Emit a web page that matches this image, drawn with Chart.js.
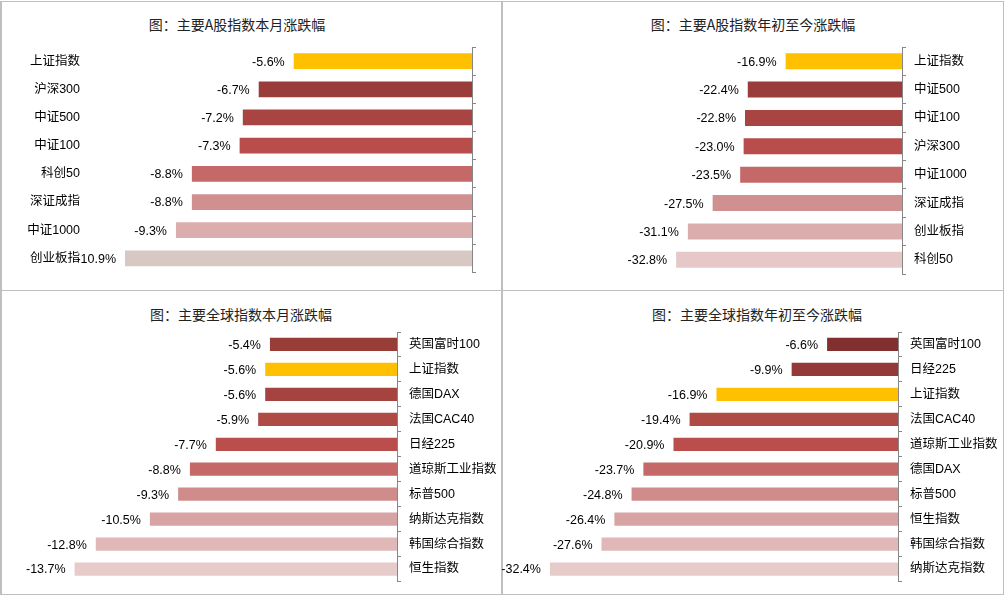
<!DOCTYPE html>
<html>
<head>
<meta charset="utf-8">
<script src="https://cdn.jsdelivr.net/npm/chart.js@4"></script>
<style>
  body { margin: 0; background: #fff; }
  #page { position: relative; width: 1008px; height: 597px; background: #fff; overflow: hidden; }
  .panel { position: absolute; }
  .title { position: absolute; text-align: center; font: 14px "Noto Sans CJK SC", sans-serif; color: #222; white-space: nowrap; }
  .line { position: absolute; background: #bfbfbf; }
</style>
</head>
<body>
<div id="page">
  <div class="line" style="left:0;top:1px;width:1004px;height:1px"></div>
  <div class="line" style="left:0;top:1px;width:2px;height:594px"></div>
  <div class="line" style="left:1003px;top:1px;width:1px;height:594px"></div>
  <div class="line" style="left:0;top:594px;width:1004px;height:1px"></div>
  <div class="line" style="left:501px;top:1px;width:2px;height:594px"></div>
  <div class="line" style="left:0;top:290px;width:1004px;height:1px"></div>

  <div class="title" style="left:137px;top:14px;width:200px">图：主要A股指数本月涨跌幅</div>
  <div class="title" style="left:643px;top:14px;width:220px">图：主要A股指数年初至今涨跌幅</div>
  <div class="title" style="left:131px;top:304px;width:220px">图：主要全球指数本月涨跌幅</div>
  <div class="title" style="left:637px;top:304px;width:240px">图：主要全球指数年初至今涨跌幅</div>

  <div class="panel" style="left:0;top:0;width:502px;height:290px"><canvas id="c1"></canvas></div>
  <div class="panel" style="left:502px;top:0;width:504px;height:290px"><canvas id="c2"></canvas></div>
  <div class="panel" style="left:0;top:290px;width:502px;height:307px"><canvas id="c3"></canvas></div>
  <div class="panel" style="left:502px;top:290px;width:504px;height:307px"><canvas id="c4"></canvas></div>
</div>
<script>
// A股 本月
const aMonthNames = ["上证指数", "沪深300", "中证500", "中证100", "科创50", "深证成指", "中证1000", "创业板指"];
const aMonthValues = [-5.6, -6.7, -7.2, -7.3, -8.8, -8.8, -9.3, -10.9];
const aMonthColors = ["#FFC000", "#9A3D3A", "#A84542", "#B84D4B", "#C46968", "#D09090", "#DCADAD", "#D7C8C4"];

// A股 年初至今
const aYtdNames = ["上证指数", "中证500", "中证100", "沪深300", "中证1000", "深证成指", "创业板指", "科创50"];
const aYtdValues = [-16.9, -22.4, -22.8, -23.0, -23.5, -27.5, -31.1, -32.8];
const aYtdColors = ["#FFC000", "#9A3D3A", "#A84542", "#B84D4B", "#C46968", "#D09090", "#DCADAD", "#E6C8C8"];

// 全球 本月
const gMonthNames = ["英国富时100", "上证指数", "德国DAX", "法国CAC40", "日经225", "道琼斯工业指数", "标普500", "纳斯达克指数", "韩国综合指数", "恒生指数"];
const gMonthValues = [-5.4, -5.6, -5.6, -5.9, -7.7, -8.8, -9.3, -10.5, -12.8, -13.7];
const gMonthColors = ["#993D37", "#FFC000", "#A4433F", "#B04A45", "#B94E4C", "#C46968", "#CF8C8B", "#D8A4A3", "#DFB8B7", "#E7CBCB"];

// 全球 年初至今
const gYtdNames = ["英国富时100", "日经225", "上证指数", "法国CAC40", "道琼斯工业指数", "德国DAX", "标普500", "恒生指数", "韩国综合指数", "纳斯达克指数"];
const gYtdValues = [-6.6, -9.9, -16.9, -19.4, -20.9, -23.7, -24.8, -26.4, -27.6, -32.4];
const gYtdColors = ["#822F2F", "#933A39", "#FFC000", "#B04A45", "#B94E4C", "#C46968", "#CF8C8B", "#D8A4A3", "#DFB8B7", "#E7CBCB"];

const labelFont = { family: "'Liberation Sans', 'Noto Sans CJK SC', sans-serif", size: 12.5 };
const axisGray = "#868686";

// value text to the left of each bar
const barLabels = {
  id: "barLabels",
  afterDatasetsDraw(chart) {
    const ctx = chart.ctx;
    const meta = chart.getDatasetMeta(0);
    const vals = chart.data.datasets[0].data;
    ctx.save();
    ctx.font = "12.5px 'Liberation Sans', sans-serif";
    ctx.fillStyle = "#000";
    ctx.textAlign = "right";
    ctx.textBaseline = "middle";
    meta.data.forEach((bar, i) => {
      ctx.fillText(vals[i].toFixed(1) + "%", bar.x - 9, bar.y + 1);
    });
    ctx.restore();
  }
};

function axisWithTicks(width, showLabels) {
  return {
    type: "category",
    position: "right",
    offset: true,
    border: { display: true, color: axisGray, width: 1 },
    grid: { display: true, drawOnChartArea: false, offset: true, tickLength: 4, color: axisGray },
    ticks: { display: showLabels, padding: 8, color: "#000", font: labelFont, autoSkip: false },
    afterFit: (s) => { s.width = width; }
  };
}

function makeChart(id, names, values, colors, opts) {
  const scales = {
    x: { display: false, min: opts.min, max: 0 }
  };
  if (opts.labelsLeft) {
    scales.y = {
      type: "category",
      position: "left",
      offset: true,
      border: { display: false },
      grid: { display: false, drawTicks: false },
      ticks: { padding: 10, color: "#000", font: labelFont, autoSkip: false },
      afterFit: (s) => { s.width = opts.leftWidth; }
    };
    scales.y2 = axisWithTicks(opts.rightWidth, false);
  } else {
    scales.y = axisWithTicks(opts.rightWidth, true);
  }
  return new Chart(document.getElementById(id), {
    type: "bar",
    data: {
      labels: names,
      datasets: [{
        data: values,
        backgroundColor: colors,
        categoryPercentage: 1,
        barPercentage: opts.barPct,
        yAxisID: "y"
      }]
    },
    options: {
      indexAxis: "y",
      responsive: true,
      maintainAspectRatio: false,
      animation: false,
      layout: { padding: opts.padding },
      plugins: { legend: { display: false }, tooltip: { enabled: false } },
      scales: scales
    },
    plugins: [barLabels]
  });
}

makeChart("c1", aMonthNames, aMonthValues, aMonthColors, {
  min: -12, labelsLeft: true, leftWidth: 90, rightWidth: 30, barPct: 0.56,
  padding: { left: 0, right: 0, top: 47, bottom: 16 }
});
makeChart("c2", aYtdNames, aYtdValues, aYtdColors, {
  min: -35, rightWidth: 104, barPct: 0.56,
  padding: { left: 159, right: 0, top: 47, bottom: 16 }
});
makeChart("c3", gMonthNames, gMonthValues, gMonthColors, {
  min: -15, rightWidth: 105, barPct: 0.53,
  padding: { left: 44, right: 0, top: 42, bottom: 14 }
});
makeChart("c4", gYtdNames, gYtdValues, gYtdColors, {
  min: -35, rightWidth: 108, barPct: 0.53,
  padding: { left: 20, right: 0, top: 42, bottom: 14 }
});
</script>
</body>
</html>
